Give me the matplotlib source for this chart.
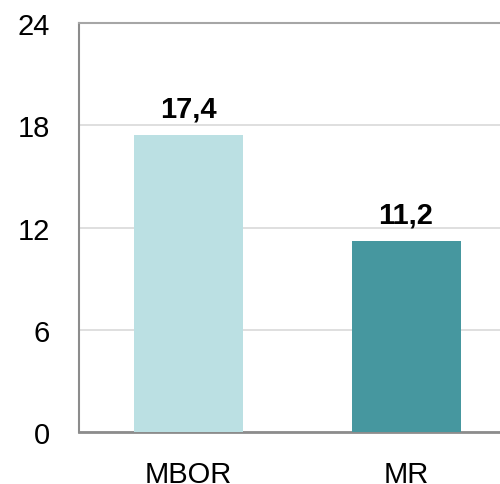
import numpy as np
import matplotlib.pyplot as plt

plt.rcParams['font.family'] = ['Liberation Sans', 'DejaVu Sans']

categories = ["MBOR", "MR"]
values = [17.4, 11.2]
value_labels = ["17,4", "11,2"]
colors = ["#BBE0E3", "#46979F"]
yticks = [0, 6, 12, 18, 24]

fig = plt.figure(figsize=(5.0, 4.85), dpi=100)
ax = fig.add_axes([0.158, 0.1072, 0.872, 0.8433])

x = np.arange(len(categories))
bars = ax.bar(x, values, width=0.5, color=colors, zorder=3)

for xi, v, lab in zip(x, values, value_labels):
    ax.annotate(lab, (xi, v), xytext=(0, 13.5), textcoords="offset points",
                ha="center", va="baseline", fontsize=21, fontweight="bold")

ax.set_xlim(-0.5, 1.5)
ax.set_ylim(0, 24)
ax.set_yticks(yticks)
ax.set_xticks(x)
ax.set_xticklabels(categories)
ax.tick_params(axis="y", length=0, pad=21, labelsize=21)
ax.tick_params(axis="x", length=0, pad=20, labelsize=21)

ax.grid(axis="y", color="#d9d9d9", linewidth=1.2, zorder=0)
ax.spines["left"].set_color("#8c8c8c")
ax.spines["left"].set_linewidth(1.5)
ax.spines["bottom"].set_color("#8c8c8c")
ax.spines["bottom"].set_linewidth(2)
ax.spines["top"].set_color("#a6a6a6")
ax.spines["top"].set_linewidth(1.5)
ax.spines["right"].set_visible(False)

fig.savefig("out.png", dpi=100)
